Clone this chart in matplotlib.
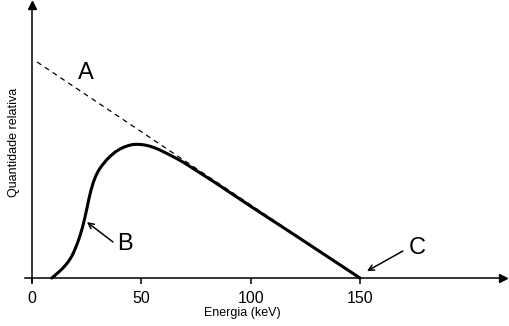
import matplotlib
matplotlib.use("Agg")
from matplotlib import pyplot as plt

# espectro de raios X
energia = [9, 10, 11, 12, 13, 14, 15, 16, 17, 18, 19, 20, 21, 22, 23, 24, 25,
           26, 27, 28, 29, 30, 31, 32, 34, 36, 38, 40, 42, 44, 46, 48, 50, 52,
           54, 56, 58, 60, 63, 66, 69, 72, 78, 84, 92, 100, 120, 150]
quantidade = [0.0, 0.008, 0.017, 0.026, 0.035, 0.045, 0.056, 0.068, 0.082,
              0.098, 0.118, 0.142, 0.168, 0.198, 0.232, 0.272, 0.318, 0.366,
              0.408, 0.442, 0.469, 0.490, 0.507, 0.521, 0.546, 0.566, 0.583,
              0.596, 0.606, 0.613, 0.618, 0.619, 0.618, 0.615, 0.610, 0.603,
              0.595, 0.585, 0.570, 0.554, 0.537, 0.518, 0.479, 0.440, 0.386,
              0.332, 0.200, 0.0]

# espectro sem filtração (linha tracejada A)
energia_a = [2.3, 150.0]
quantidade_a = [1.0, 0.0]

ticks_x = [0, 50, 100, 150]

plt.rcParams['font.family'] = ['Liberation Sans', 'DejaVu Sans']

fig = plt.figure(figsize=(5.09, 3.26), dpi=100)
ax = fig.add_axes([0.0629 - 0.0137, 0.1472 - 0.0123, 0.9253 + 0.0137, 0.8375 + 0.0123])

ax.plot(energia_a, quantidade_a, color='black', lw=0.9, ls=(0, (4, 3.5)))
ax.plot(energia, quantidade, color='black', lw=2.2, solid_capstyle='round',
        solid_joinstyle='round')

ax.set_xlim(-3.2, 215.4)
ax.set_ylim(-0.0185, 1.264)

for s in ['top', 'right']:
    ax.spines[s].set_visible(False)
ax.spines['left'].set_position(('data', 0))
ax.spines['bottom'].set_position(('data', 0))
ax.spines['left'].set_linewidth(1.1)
ax.spines['bottom'].set_linewidth(1.1)

# setas nos eixos
ax.plot(1, 0, '>k', ms=6, transform=ax.get_yaxis_transform(), clip_on=False)
ax.plot(0, 1, '^k', ms=6, transform=ax.get_xaxis_transform(), clip_on=False)

ax.set_xticks(ticks_x)
ax.set_xticklabels([str(t) for t in ticks_x])
ax.tick_params(axis='x', direction='out', length=4, width=1.1, labelsize=11.5, pad=5)
ax.set_yticks([])

fig.text(242 / 509, 1 - 313 / 326, 'Energia (keV)', ha='center', va='center', fontsize=9)
fig.text(14 / 509, 1 - 142 / 326, 'Quantidade relativa', ha='center', va='center',
         rotation=90, fontsize=9)

ax.text(24.7, 0.949, 'A', ha='center', va='center', fontsize=17)
ax.text(42.5, 0.157, 'B', ha='center', va='center', fontsize=17)
ax.text(176.0, 0.139, 'C', ha='center', va='center', fontsize=17)

ax.annotate('', xy=(25.1, 0.259), xytext=(37.0, 0.167),
            arrowprops=dict(arrowstyle='->', lw=1.1, color='black',
                            shrinkA=0, shrinkB=0, mutation_scale=10))
ax.annotate('', xy=(153.2, 0.032), xytext=(169.6, 0.125),
            arrowprops=dict(arrowstyle='->', lw=1.1, color='black',
                            shrinkA=0, shrinkB=0, mutation_scale=10))

fig.savefig('out.png', dpi=100)
